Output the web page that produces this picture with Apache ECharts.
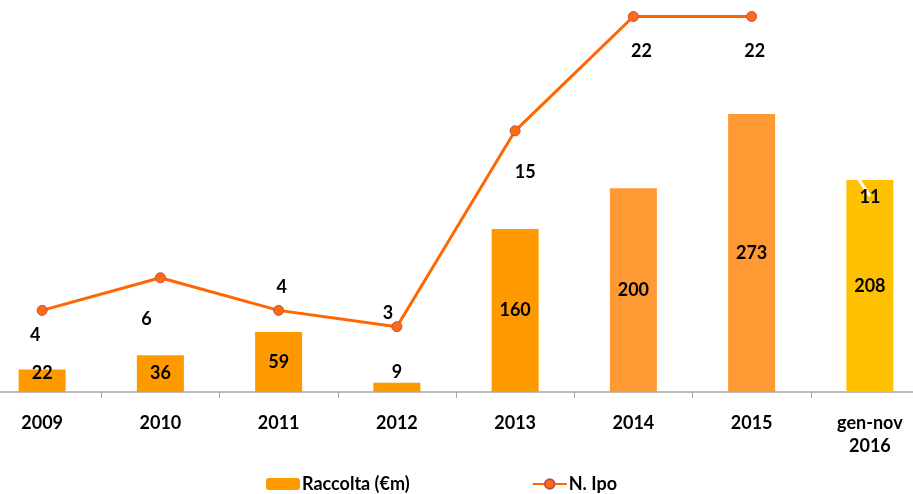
<!DOCTYPE html>
<html><head><meta charset="utf-8">
<script src="https://cdn.jsdelivr.net/npm/echarts@6/dist/echarts.min.js"></script>
<style>html,body{margin:0;padding:0;background:#fff}#c{width:913px;height:494px}</style>
</head><body><div id="c"></div>
<script>
const categories = ['2009','2010','2011','2012','2013','2014','2015','gen-nov\n2016'];
const raccolta = [22,36,59,9,160,200,273,208];
const nIpo = [4,6,4,3,15,22,22,11];
const barColors = ['#FF9900','#FF9900','#FF9900','#FF9900','#FF9900','#FF9933','#FF9933','#FFC000'];
const barLabelOffsets = [[0,-8],[0,0],[0,0],[0,-15],[0,0],[0,0],[0,0],[0,0]];
const lineLabelOffsets = [[-7,25],[-14,41],[3,-23],[-9,-14],[10,41],[8,35],[3,35],[0,1]];

const FONT = 'Lato';
const FS = 18;
const lbl = {color:'#000', fontWeight:'bold', fontSize:FS, fontFamily:FONT};

const chart = echarts.init(document.getElementById('c'), null, {renderer:'canvas'});
chart.setOption({
  animation:false,
  backgroundColor:'#fff',
  grid:{left:-17, right:-16, top:10, bottom:102, containLabel:false, outerBoundsMode:'none'},
  legend:{
    data:['Raccolta (€m)','N. Ipo'],
    left:261, top:470, itemGap:122, itemWidth:34, itemHeight:12,
    textStyle:{color:'#000', fontWeight:'bold', fontSize:FS, fontFamily:FONT, padding:[0,0,0,-3]}
  },
  xAxis:{
    type:'category', data:categories,
    axisLine:{lineStyle:{color:'#A6A6A6', width:1.5}},
    axisTick:{show:true, length:6, lineStyle:{color:'#A6A6A6'}},
    axisLabel:{color:'#000', fontWeight:'bold', fontSize:FS, fontFamily:FONT, margin:20, lineHeight:23, interval:0}
  },
  yAxis:[
    {type:'value', min:0, max:375, show:false, splitLine:{show:false}},
    {type:'value', min:-1, max:22.4, show:false, splitLine:{show:false}}
  ],
  series:[
    {
      name:'Raccolta (€m)', type:'bar', barWidth:47, yAxisIndex:0,
      itemStyle:{color:'#FF9900'},
      data: raccolta.map((v,i)=>({value:v, itemStyle:{color:barColors[i]},
        label:{show:true, position:'inside', offset:barLabelOffsets[i], ...lbl}}))
    },
    {
      name:'N. Ipo', type:'line', yAxisIndex:1,
      lineStyle:{color:'#FF6600', width:3},
      itemStyle:{color:'#FF6A13', borderColor:'#C0504D', borderWidth:1},
      symbol:'circle', symbolSize:10, z:4,
      data: nIpo.map((v,i)=> i<7 ? ({value:v,
        label:{show:true, position:'inside', offset:lineLabelOffsets[i], ...lbl}}) : null)
    },
    {
      name:'seg', type:'line', yAxisIndex:1, silent:true,
      lineStyle:{color:'#FFFFFF', width:3}, showSymbol:true, symbol:'circle', symbolSize:1,
      itemStyle:{color:'rgba(255,255,255,0)', borderWidth:0}, z:3,
      data: nIpo.map((v,i)=> i>=6 ? ({value:v,
        label: i===7 ? {show:true, position:'inside', offset:lineLabelOffsets[i], ...lbl} : {show:false}}) : null)
    }
  ]
});
</script></body></html>
